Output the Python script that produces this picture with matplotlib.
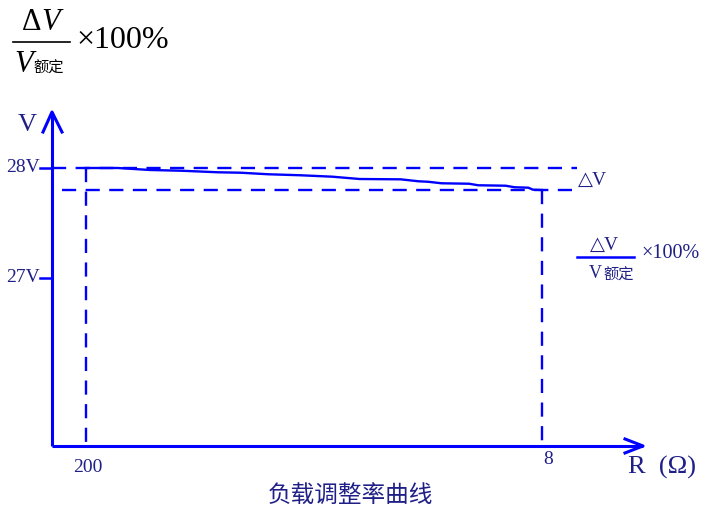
import matplotlib.pyplot as plt

# load regulation curve (schematic), R position: 0 -> 200 ohm, 1 -> 8 ohm
curve_r = [0, 0.07, 0.14, 0.21, 0.29, 0.34, 0.40, 0.47, 0.54, 0.60, 0.69,
           0.73, 0.75, 0.78, 0.84, 0.86, 0.92, 0.94, 0.97, 0.98, 1.0]
curve_v = [28.0, 28.0, 27.982, 27.975, 27.961, 27.957, 27.943, 27.934, 27.921,
           27.9, 27.897, 27.879, 27.875, 27.861, 27.857, 27.843, 27.839,
           27.825, 27.821, 27.803, 27.8]

v_ticks = [28, 27]
v_labels = ['28V', '27V']
r_ticks = [0, 1]
r_labels = ['200', '8']
v_high = 28.0
v_low = 27.8

W, H = 707, 514
blue = '#0000ff'
navy = '#1f1f87'
serif = ['Liberation Serif', 'DejaVu Serif', 'Noto Sans CJK SC']
cjk = ['Noto Sans CJK SC', 'DejaVu Sans']

fig = plt.figure(figsize=(W / 100, H / 100), dpi=100)
ax = fig.add_axes([0, 0, 1, 1])
ax.set_xlim(-86 / 456, (W - 86) / 456)
ax.set_ylim(28 - (H - 168) / 110, 28 + 168 / 110)
ax.axis('off')

# axis geometry in data units
x0, y0 = -0.0746, 25.473
x_end, y_top = 1.2215, 28.509
dash_end = 1.0768

# axes with open arrow heads
ax.plot([x0, x0], [y0, y_top], color=blue, lw=2.2, solid_capstyle='butt')
ax.plot([x0, x_end], [y0, y0], color=blue, lw=2.2, solid_capstyle='butt')
ax.plot([x0 - 0.0197, x0, x0 + 0.0219], [y_top - 0.182, y_top, y_top - 0.182],
        color=blue, lw=2.2)
ax.plot([x_end - 0.0395, x_end, x_end - 0.0395], [y0 + 0.0636, y0, y0 - 0.0636],
        color=blue, lw=2.2)

# y ticks
for v, lab in zip(v_ticks, v_labels):
    ax.plot([x0 - 0.0263, x0], [v, v], color=blue, lw=1.8)
    ax.text(x0 - 0.0263, v, lab, ha='right', va='center', fontsize=14,
            color=navy, family=serif)

# x tick labels
ax.text(r_ticks[0] + 0.004, y0 - 0.2, r_labels[0], ha='center', va='center',
        fontsize=14, color=navy, family=serif)
ax.text(r_ticks[1] + 0.013, y0 - 0.12, r_labels[1], ha='center', va='center',
        fontsize=14, color=navy, family=serif)

# dashed reference lines
dash = dict(color=blue, lw=1.7, dashes=(6, 4))
ax.plot([x0, dash_end], [v_high, v_high], **dash)
ax.plot([-0.0526, dash_end], [v_low, v_low], **dash)
ax.plot([r_ticks[0], r_ticks[0]], [v_high, y0], **dash)
ax.plot([r_ticks[1], r_ticks[1]], [v_low, y0], **dash)

# curve
ax.plot(curve_r, curve_v, color=blue, lw=1.7)

# axis names
fig.text(27 / W, 1 - 125 / H, 'V', ha='center', va='center', fontsize=19,
         color=navy, family=serif)
fig.text(628 / W, 1 - 467 / H, 'R  (Ω)', ha='left', va='center', fontsize=19,
         color=navy, family=serif)

# title
fig.text(350 / W, 1 - 496 / H, '负载调整率曲线', ha='center', va='center',
         fontsize=17, color=navy, family=cjk)

# delta V marker
fig.text(578 / W, 1 - 180 / H, '△V', ha='left', va='center', fontsize=14,
         color=navy, family=serif)

# right fraction
fig.text(605 / W, 1 - 245 / H, '△V', ha='center', va='center', fontsize=14,
         color=navy, family=serif)
fig.add_artist(plt.Line2D([577 / W, 634 / W], [1 - 257 / H, 1 - 257 / H],
                          color=blue, lw=1.8))
fig.text(589 / W, 1 - 273 / H, 'V', ha='left', va='center', fontsize=13,
         color=navy, family=serif)
fig.text(603 / W, 1 - 275 / H, '额定', ha='left', va='center', fontsize=11,
         color=navy, family=cjk)
fig.text(641 / W, 1 - 254 / H, '×100%', ha='left', va='center', fontsize=14.5,
         color=navy, family=serif)

# top-left formula
fig.text(41 / W, 1 - 22 / H, 'Δ', ha='right', va='center', fontsize=22,
         color='black', family=serif)
fig.text(41 / W, 1 - 22 / H, 'V', ha='left', va='center', fontsize=22,
         color='black', family=serif, style='italic')
fig.add_artist(plt.Line2D([13 / W, 70 / W], [1 - 42 / H, 1 - 42 / H],
                          color='black', lw=1.2))
fig.text(14 / W, 1 - 64 / H, 'V', ha='left', va='center', fontsize=22,
         color='black', family=serif, style='italic')
fig.text(33 / W, 1 - 68 / H, '额定', ha='left', va='center', fontsize=11,
         color='black', family=cjk)
fig.text(76 / W, 1 - 41 / H, '×100%', ha='left', va='center', fontsize=23,
         color='black', family=serif)

fig.savefig('out.png', dpi=100)
